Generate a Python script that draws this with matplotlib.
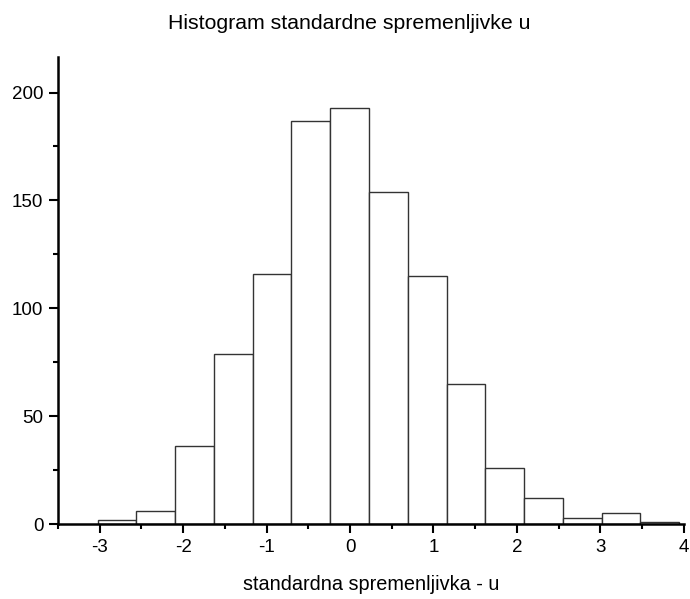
import matplotlib
matplotlib.use("Agg")
import matplotlib.pyplot as plt
from matplotlib.ticker import MultipleLocator
import numpy as np

plt.rcParams['font.family'] = ['Liberation Sans', 'DejaVu Sans']
plt.rcParams['axes.unicode_minus'] = False

bin_start = -3.025
bin_width = 0.4647
counts = [2, 6, 36, 79, 116, 187, 193, 154, 115, 65, 26, 12, 3, 5, 1]
title = "Histogram standardne spremenljivke u"
xlabel = "standardna spremenljivka - u"

edges = bin_start + bin_width * np.arange(len(counts))

fig = plt.figure(figsize=(6.9, 5.99), dpi=100)
ax = fig.add_axes([0.084, 0.125, 0.907, 0.78])
ax.bar(edges, counts, width=bin_width, align='edge', facecolor='white',
       edgecolor='#333333', linewidth=1.0)

ax.set_xlim(-3.5, 4)
ax.set_ylim(0, 216.5)
ax.spines['top'].set_visible(False)
ax.spines['right'].set_visible(False)
for s in ('left', 'bottom'):
    ax.spines[s].set_linewidth(1.8)
ax.xaxis.set_major_locator(MultipleLocator(1))
ax.xaxis.set_minor_locator(MultipleLocator(0.5))
ax.yaxis.set_major_locator(MultipleLocator(50))
ax.yaxis.set_minor_locator(MultipleLocator(25))
ax.tick_params(which='major', direction='out', length=6.5, width=1.5,
               labelsize=13.5, pad=4)
ax.tick_params(which='minor', direction='out', length=3.5, width=1.5)
ax.set_xlabel(xlabel, fontsize=14.3, labelpad=14)
fig.text(0.5065, 0.961, title, ha='center', va='center', fontsize=15.3)

fig.savefig("out.png", dpi=100)
